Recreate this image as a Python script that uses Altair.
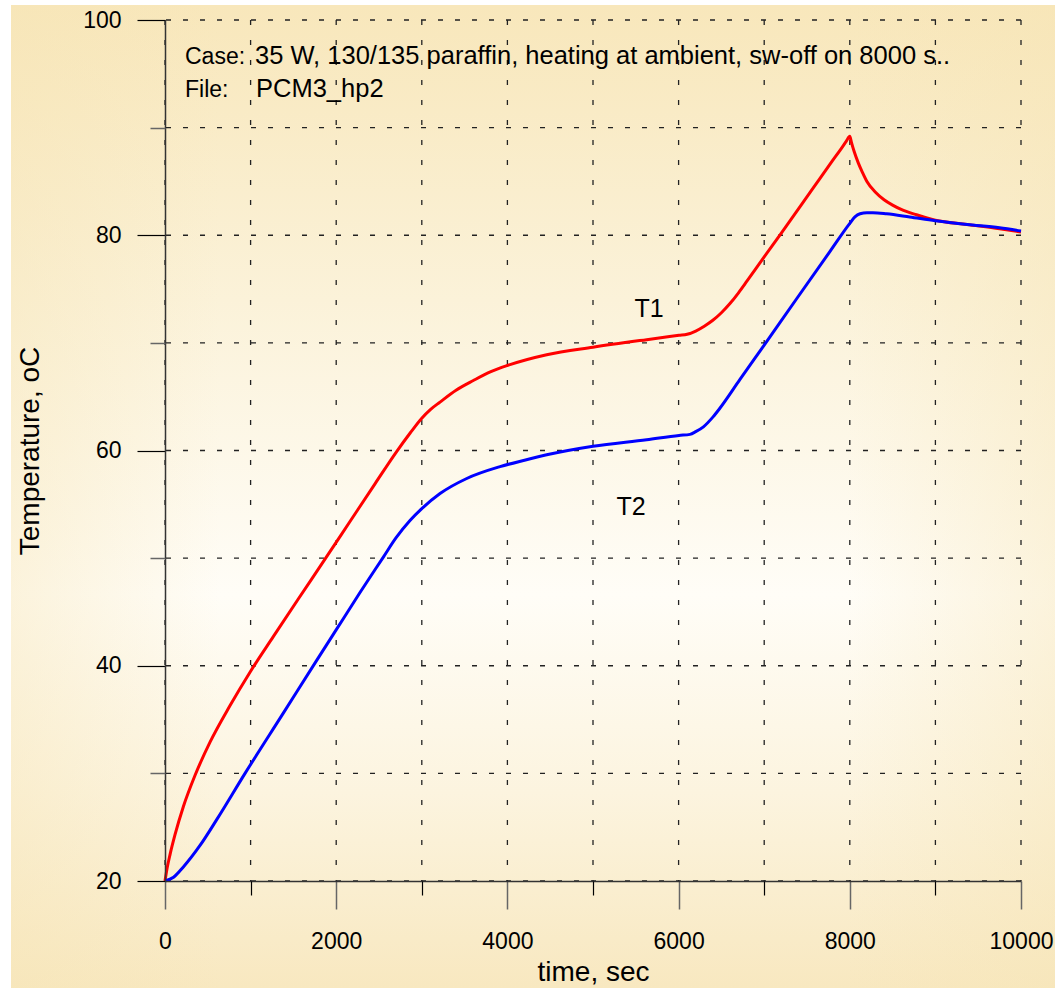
import altair as alt
import pandas as pd

# ---- data ----
t1_time = [0, 25, 60, 117, 214, 350, 526, 760, 993, 1265, 1557, 1869, 2161, 2453, 2706, 2862,
           3000, 3100, 3213, 3400, 3602, 3800, 4000, 4459, 5000, 5627, 6005, 6100, 6200, 6300,
           6400, 6500, 6600, 6700, 6800, 7000, 7200, 7573, 7800, 7900, 7960, 8000, 8020, 8050,
           8100, 8150, 8200, 8300, 8400, 8500, 8600, 8780, 9000, 9370, 9750, 10000]
t1_temp = [20, 21.2, 22.5, 24.3, 26.9, 29.8, 32.9, 36.3, 39.4, 42.7, 46.2, 49.9, 53.4, 56.9, 59.9, 61.6,
           63.0, 63.8, 64.5, 65.6, 66.5, 67.3, 67.9, 68.9, 69.6, 70.3, 70.7, 70.8, 71.1, 71.55,
           72.1, 72.8, 73.65, 74.65, 75.75, 78.0, 80.2, 84.4, 86.95, 88.05, 88.75, 89.2, 88.6, 87.8,
           86.7, 85.8, 85.0, 84.0, 83.3, 82.8, 82.4, 81.9, 81.4, 81.0, 80.6, 80.3]

t2_time = [0, 100, 214, 409, 604, 935, 1382, 1772, 2005, 2278, 2551, 2700, 2862, 3000, 3213,
           3525, 3914, 4200, 4459, 5000, 5627, 6005, 6133, 6200, 6290, 6400, 6480, 6717, 7000,
           7379, 7769, 8000, 8060, 8120, 8200, 8270, 8430, 8700, 9000, 9370, 9750, 10000]
t2_temp = [20, 20.35, 21.3, 23.3, 25.7, 30.0, 35.6, 40.5, 43.4, 46.8, 50.1, 51.9, 53.5, 54.6, 56.0,
           57.4, 58.5, 59.1, 59.6, 60.4, 61.0, 61.4, 61.5, 61.75, 62.2, 63.1, 63.9, 66.6, 69.8,
           74.1, 78.5, 81.1, 81.7, 82.0, 82.1, 82.1, 82.0, 81.7, 81.35, 81.0, 80.7, 80.4]

series_names = ["T1", "T2"]
series_colors = ["#FF0000", "#0000FF"]

x_major = [0, 2000, 4000, 6000, 8000, 10000]
x_minor = [1000, 3000, 5000, 7000, 9000]
x_grid = [0, 1000, 2000, 3000, 4000, 5000, 6000, 7000, 8000, 9000, 10000]
y_major = [20, 40, 60, 80, 100]
y_minor = [30, 50, 70, 90]
y_grid = [20, 30, 40, 50, 60, 70, 80, 90, 100]

label_text = ["T1", "T2"]
label_time = [5654, 5444]
label_temp = [73.15, 54.75]

header_keys = ["Case:", "File:"]
header_vals = ["35 W, 130/135 paraffin, heating at ambient, sw-off on 8000 s..", "PCM3_hp2"]

FONT = "Liberation Sans"
W, H = 856, 861

lines_df = pd.concat([
    pd.DataFrame({"t": t1_time, "T": t1_temp, "series": "T1"}),
    pd.DataFrame({"t": t2_time, "T": t2_temp, "series": "T2"}),
], ignore_index=True)

xs = alt.Scale(domain=[0, 10000], nice=False, zero=False)
ys = alt.Scale(domain=[20, 100], nice=False, zero=False)

one = pd.DataFrame({"a": [0]})

# background gradients
bg_v = alt.Chart(one).mark_rect(
    fill={"gradient": "linear", "x1": 0, "y1": 0, "x2": 0, "y2": 1,
          "stops": [{"offset": 0, "color": "#F8E7BB"},
                    {"offset": 0.3, "color": "#FBF2D9"},
                    {"offset": 0.6, "color": "#FFFDF7"},
                    {"offset": 0.8, "color": "#FCF4DF"},
                    {"offset": 1, "color": "#F8E8C0"}]},
    stroke="transparent"
).encode(x=alt.value(-154), x2=alt.value(890), y=alt.value(-15), y2=alt.value(968))

bg_h = alt.Chart(one).mark_rect(
    fill={"gradient": "linear", "x1": 0, "y1": 0, "x2": 1, "y2": 0,
          "stops": [{"offset": 0, "color": "rgba(246,228,180,0.4)"},
                    {"offset": 0.2, "color": "rgba(246,228,180,0.0)"},
                    {"offset": 0.8, "color": "rgba(246,228,180,0.0)"},
                    {"offset": 1, "color": "rgba(246,228,180,0.4)"}]},
    stroke="transparent"
).encode(x=alt.value(-154), x2=alt.value(890), y=alt.value(-15), y2=alt.value(968))

x_major_axis = alt.Axis(
    orient="bottom", values=x_major, format="d", grid=False, zindex=1,
    domain=True, domainColor="#333333", domainWidth=1.5,
    ticks=True, tickSize=28, tickColor="#666666", tickWidth=1.5,
    labelFont=FONT, labelFontSize=23, labelColor="#000000", labelPadding=21,
    labelFlush=False, labelOverlap=False,
    title="time, sec", titleFont=FONT, titleFontSize=28, titleFontWeight="normal",
    titleColor="#000000", titleX=428, titleY=99, titleAlign="center",
    titleBaseline="alphabetic",
)
x_minor_axis = alt.Axis(
    orient="bottom", values=x_minor, grid=False, zindex=1, domain=False,
    ticks=True, tickSize=14, tickColor="#000000", tickWidth=1.2,
    labels=False, title=None,
)
y_major_axis = alt.Axis(
    orient="left", values=y_major, format="d", grid=False, zindex=1,
    domain=True, domainColor="#333333", domainWidth=1.5,
    ticks=True, tickSize=28, tickColor="#000000", tickWidth=1.2,
    labelFont=FONT, labelFontSize=23, labelColor="#000000", labelPadding=16,
    labelFlush=False, labelOverlap=False,
    title="Temperature, oC", titleFont=FONT, titleFontSize=28, titleFontWeight="normal",
    titleColor="#000000", titleX=-127, titleY=430.5, titleAngle=270, titleAlign="center",
    titleBaseline="alphabetic",
)
y_minor_axis = alt.Axis(
    orient="left", values=y_minor, grid=False, zindex=1, domain=False,
    ticks=True, tickSize=15, tickColor="#666666", tickWidth=1.5,
    labels=False, title=None,
)

vgrid = alt.Chart(pd.DataFrame({"t": x_grid})).mark_rule(
    color="#222222", strokeWidth=1.3, strokeDash=[5, 15]
).encode(x=alt.X("t:Q", scale=xs, axis=x_major_axis))

hgrid = alt.Chart(pd.DataFrame({"T": y_grid})).mark_rule(
    color="#222222", strokeWidth=1.3, strokeDash=[5, 12]
).encode(y=alt.Y("T:Q", scale=ys, axis=y_major_axis))

lines = alt.Chart(lines_df).mark_line(strokeWidth=3, interpolate="monotone").encode(
    x=alt.X("t:Q", scale=xs, axis=x_minor_axis),
    y=alt.Y("T:Q", scale=ys, axis=y_minor_axis),
    color=alt.Color("series:N", scale=alt.Scale(domain=series_names, range=series_colors), legend=None),
)

labels = alt.Chart(pd.DataFrame({"t": label_time, "T": label_temp, "txt": label_text})).mark_text(
    font=FONT, fontSize=25, color="#000000", align="center", baseline="middle"
).encode(
    x=alt.X("t:Q", scale=xs, axis=None),
    y=alt.Y("T:Q", scale=ys, axis=None),
    text="txt:N",
)

hdr_key1 = alt.Chart(one).mark_text(font=FONT, fontSize=23, align="left", baseline="alphabetic",
                                     color="#000000", text=header_keys[0]).encode(x=alt.value(20), y=alt.value(44))
hdr_val1 = alt.Chart(one).mark_text(font=FONT, fontSize=25.5, align="left", baseline="alphabetic",
                                     color="#000000", text=header_vals[0]).encode(x=alt.value(90), y=alt.value(44))
hdr_key2 = alt.Chart(one).mark_text(font=FONT, fontSize=23, align="left", baseline="alphabetic",
                                     color="#000000", text=header_keys[1]).encode(x=alt.value(20), y=alt.value(76.7))
hdr_val2 = alt.Chart(one).mark_text(font=FONT, fontSize=25.5, align="left", baseline="alphabetic",
                                     color="#000000", text=header_vals[1]).encode(x=alt.value(91), y=alt.value(76.7))

chart = alt.layer(
    bg_v, bg_h, vgrid, hgrid, lines, labels, hdr_key1, hdr_val1, hdr_key2, hdr_val2
).resolve_axis(
    x="independent", y="independent"
).properties(
    width=W, height=H,
    padding={"left": 165, "top": 20, "right": 34, "bottom": 107},
    autosize=alt.AutoSizeParams(type="none"),
    background="white",
).configure_view(stroke="transparent")

chart.save("out.html", embed_options={"renderer": "svg", "actions": False})
